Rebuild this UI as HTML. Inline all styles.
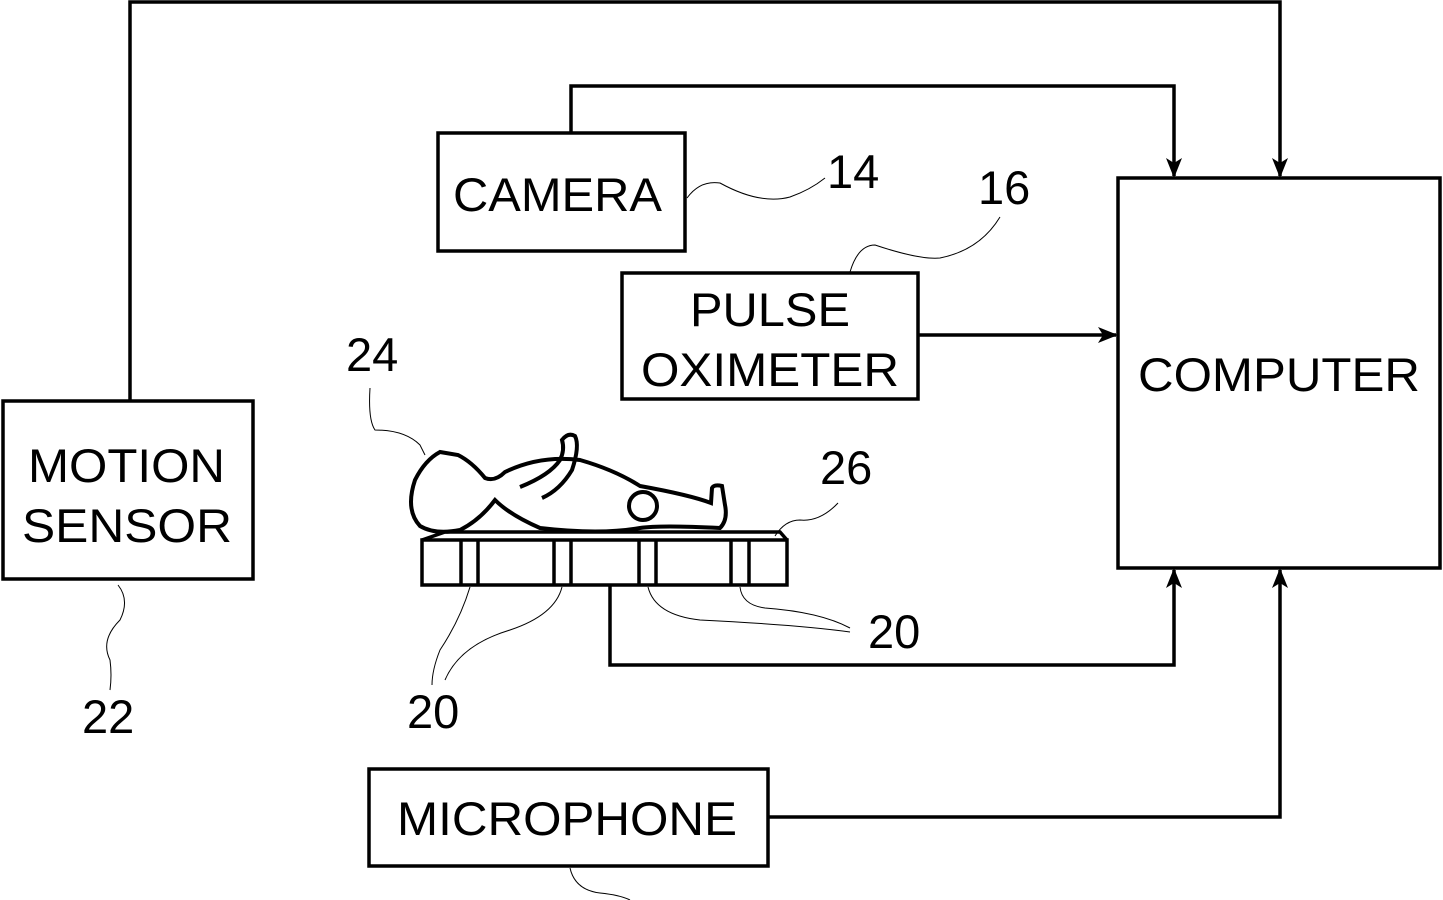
<!DOCTYPE html>
<html><head><style>
html,body{margin:0;padding:0;background:#fff;}
svg{display:block;}
text{font-family:"Liberation Sans",Arial,sans-serif;fill:#000;}
</style></head><body>
<svg width="1443" height="900" viewBox="0 0 1443 900" xmlns="http://www.w3.org/2000/svg">
<defs>
<marker id="a" markerWidth="20" markerHeight="16" refX="18" refY="8" orient="auto" markerUnits="userSpaceOnUse">
<path d="M0,0 L20,8 L0,16 L5,8 Z" fill="#000"/>
</marker>
</defs>
<g fill="none" stroke="#000" stroke-width="3.5">
<rect x="438" y="133" width="247" height="118"/>
<rect x="622" y="273" width="296" height="126"/>
<rect x="1118" y="178" width="322" height="390"/>
<rect x="3" y="401" width="250" height="178"/>
<rect x="369" y="769" width="399" height="97"/>
<path d="M130,401 V2 H1280 V176" marker-end="url(#a)"/>
<path d="M571,133 V86 H1174 V176" marker-end="url(#a)"/>
<path d="M918,335 H1116" marker-end="url(#a)"/>
<path d="M610,586 V665 H1174 V570" marker-end="url(#a)"/>
<path d="M768,817 H1280 V570" marker-end="url(#a)"/>
<rect x="422" y="540" width="365" height="45"/>
<path d="M422,540 L445,532 H780 L787,540"/>
<path d="M461,540V585M478,540V585M554,540V585M571,540V585M639,540V585M656,540V585M731,540V585M749,540V585"/>
<path stroke-width="4" d="M440,452 Q425,460 415,480 Q405,510 420,526 Q435,535 460,530 Q480,520 495,500 Q510,515 540,528 Q600,535 640,528 Q660,525 720,528 Q728,520 725,505 L722,486 Q714,484 712,488 L711,503 Q690,495 640,486 Q615,470 580,460 Q540,455 505,472 Q495,482 485,478 Q472,462 458,455 Z"/>
<path stroke-width="4" d="M520,487 Q550,475 560,460 Q565,450 562,440 Q568,432 575,436 Q580,446 572,470 Q560,490 542,498"/>
<circle stroke-width="4" cx="643" cy="506" r="14"/>
</g>
<g fill="none" stroke="#000" stroke-width="1">
<path d="M687,198 Q700,180 720,183 Q760,205 790,197 Q810,190 825,178"/>
<path d="M850,272 Q858,245 875,245 Q920,260 940,258 Q980,250 1000,217"/>
<path d="M370,388 Q368,420 375,430 Q405,430 420,445 L425,455"/>
<path d="M775,536 Q785,520 800,520 Q820,522 838,503"/>
<path d="M118,585 Q130,600 120,620 Q100,640 110,660 Q112,675 110,690"/>
<path d="M470,587 Q460,620 440,650 Q432,670 432,685"/>
<path d="M562,587 Q555,615 510,630 Q460,645 445,680"/>
<path d="M648,587 Q655,615 700,620 Q800,625 850,632"/>
<path d="M740,587 Q742,605 765,608 Q820,612 850,628"/>
<path d="M570,868 Q575,890 600,893 Q620,895 630,900"/>
</g>
<g font-size="47" lengthAdjust="spacingAndGlyphs">
<text x="453" y="211" textLength="209" lengthAdjust="spacingAndGlyphs">CAMERA</text>
<text x="690" y="326" textLength="160" lengthAdjust="spacingAndGlyphs">PULSE</text>
<text x="641" y="386" textLength="258" lengthAdjust="spacingAndGlyphs">OXIMETER</text>
<text x="1138" y="391" textLength="282" lengthAdjust="spacingAndGlyphs">COMPUTER</text>
<text x="28" y="482" textLength="197" lengthAdjust="spacingAndGlyphs">MOTION</text>
<text x="22" y="542" textLength="210" lengthAdjust="spacingAndGlyphs">SENSOR</text>
<text x="397" y="835" textLength="340" lengthAdjust="spacingAndGlyphs">MICROPHONE</text>
<text x="827" y="188">14</text>
<text x="978" y="204">16</text>
<text x="346" y="371">24</text>
<text x="820" y="484">26</text>
<text x="868" y="648">20</text>
<text x="407" y="728">20</text>
<text x="82" y="733">22</text>
</g>
</svg>
</body></html>
